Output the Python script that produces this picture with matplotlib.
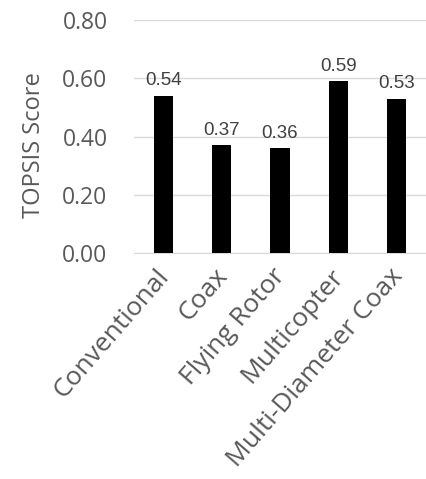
import matplotlib
matplotlib.use("Agg")
import matplotlib.pyplot as plt
from matplotlib.transforms import ScaledTranslation

# TOPSIS scores per rotor configuration
configs = ["Conventional", "Coax", "Flying Rotor", "Multicopter", "Multi-Diameter Coax"]
scores = [0.54, 0.37, 0.36, 0.59, 0.53]
yticks = [0.0, 0.2, 0.4, 0.6, 0.8]

plt.rcParams['font.family'] = ['Open Sans', 'DejaVu Sans']

fig = plt.figure(figsize=(4.27, 4.79), dpi=100)
ax = fig.add_axes([134 / 427, 226 / 479, 292 / 427, 233 / 479])

x = list(range(len(configs)))
bars = ax.bar(x, scores, width=0.33, color="black", zorder=3)

for xi, s in zip(x, scores):
    ax.text(xi, s + 0.022, f"{s:.2f}", ha="center", va="bottom",
            fontsize=13.5, color="#404040", family="Liberation Sans")

ax.set_xlim(-0.5, len(configs) - 0.5)
ax.set_ylim(0, 0.8)
ax.set_yticks(yticks)
ax.set_yticklabels([f"{t:.2f}" for t in yticks], fontsize=16.5, color="#595959")
ax.grid(axis="y", color="#d9d9d9", linewidth=1, zorder=0)

# slanted category names, drawn by hand so the offset stays put
ax.set_xticks(x)
ax.set_xticklabels([])
off = ax.get_xaxis_transform() + ScaledTranslation(-8 / 100, -11 / 100, fig.dpi_scale_trans)
for xi, name in zip(x, configs):
    ax.text(xi, 0, name, transform=off, rotation=49, rotation_mode="anchor",
            ha="right", va="top", fontsize=19, color="#595959")

ax.tick_params(length=0)
ax.tick_params(axis="y", pad=19)
for side in ["top", "right", "left"]:
    ax.spines[side].set_visible(False)
ax.spines["bottom"].set_color("#d9d9d9")
ax.set_ylabel("TOPSIS Score", fontsize=17, color="#595959")
ax.yaxis.set_label_coords(-0.302, 0.464)

fig.savefig("out.png", dpi=100)
